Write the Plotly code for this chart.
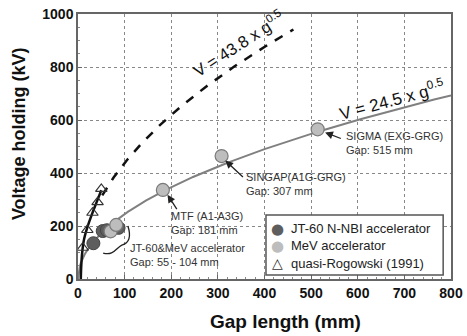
import numpy as np
import plotly.graph_objects as go

# Data
jt60_gap = [33, 53, 62, 87]
jt60_v = [135, 181, 184, 193]
mev_gap = [70, 82, 182, 308, 514]
mev_v = [180, 204, 336, 464, 565]
rog_gap = [10, 20, 31, 42, 50]
rog_v = [118, 185, 250, 290, 340]
rogfit_gap = [6, 7, 9, 13, 20, 30, 40, 50]
rogfit_v = [0, 50, 100, 150, 195, 245, 290, 335]
coef_low = 24.5
coef_high = 43.8
legend_names = ["JT-60 N-NBI accelerator", "MeV accelerator", "quasi-Rogowski (1991)"]

g_low = np.linspace(0, 800, 400)
g_high = np.linspace(52, 462, 200)

FONT = "Liberation Sans, Arial, sans-serif"
fig = go.Figure()

fig.add_trace(go.Scatter(x=g_low, y=coef_low * np.sqrt(g_low), mode="lines",
                         line=dict(color="#808080", width=2), showlegend=False, hoverinfo="skip"))
fig.add_trace(go.Scatter(x=g_high, y=coef_high * np.sqrt(g_high), mode="lines",
                         line=dict(color="#111111", width=2.5, dash="dash"), showlegend=False, hoverinfo="skip"))
fig.add_trace(go.Scatter(x=rogfit_gap, y=rogfit_v, mode="lines", line_shape="spline",
                         line=dict(color="#111111", width=2.5), showlegend=False, hoverinfo="skip"))

fig.add_trace(go.Scatter(x=jt60_gap, y=jt60_v, mode="markers", name=legend_names[0], showlegend=False,
                         marker=dict(symbol="circle", size=13, color="#5e5e5e",
                                     line=dict(color="#444444", width=1))))
fig.add_trace(go.Scatter(x=mev_gap, y=mev_v, mode="markers", name=legend_names[1], showlegend=False,
                         marker=dict(symbol="circle", size=13, color="#bdbdbd",
                                     line=dict(color="#7a7a7a", width=1.2))))
fig.add_trace(go.Scatter(x=rog_gap, y=rog_v, mode="markers", name=legend_names[2], showlegend=False,
                         marker=dict(symbol="triangle-up-open", size=10, color="#333333",
                                     line=dict(width=1.2))))

ann_font = dict(family=FONT, size=11, color="#333333")
annotations = [
    dict(x=345, y=890, text="V = 43.8 x g<sup>0.5</sup>", textangle=-33, showarrow=False,
         font=dict(family=FONT, size=16.5, color="#111111")),
    dict(x=674, y=678, text="V = 24.5 x g<sup>0.5</sup>", textangle=-15, showarrow=False,
         font=dict(family=FONT, size=17, color="#111111")),
    dict(x=570, y=513, text="SIGMA (EXG-GRG)<br>Gap: 515 mm", showarrow=False, xanchor="left",
         align="left", font=ann_font),
    dict(x=355, y=360, text="SINGAP(A1G-GRG)<br>Gap: 307 mm", showarrow=False, xanchor="left",
         align="left", font=ann_font),
    dict(x=195, y=210, text="MTF (A1-A3G)<br>Gap: 181 mm", showarrow=False, xanchor="left",
         align="left", font=ann_font),
    dict(x=108, y=92, text="JT-60&MeV accelerator<br>Gap: 55 - 104 mm", showarrow=False, xanchor="left",
         align="left", font=ann_font),
    # axis titles
    dict(xref="paper", yref="paper", x=0.557, y=-0.162, xanchor="center", yanchor="middle",
         text="<b>Gap length (mm)</b>", showarrow=False,
         font=dict(family=FONT, size=19, color="#111111")),
    dict(xref="paper", yref="paper", x=-0.158, y=0.547, xanchor="center", yanchor="middle",
         text="<b>Voltage holding (kV)</b>", showarrow=False,
         textangle=-90, font=dict(family=FONT, size=18, color="#111111")),
]
# arrows
for (tx, ty, hx, hy) in [(567, 528, 530, 553), (357, 380, 316, 447), (214, 258, 192, 318)]:
    annotations.append(dict(x=hx, y=hy, ax=tx, ay=ty, xref="x", yref="y", axref="x", ayref="y",
                            text="", showarrow=True, arrowhead=2, arrowsize=1.2, arrowwidth=1.3,
                            arrowcolor="#222222"))

# manual legend (compact, like the reference)
leg_y = [0.189, 0.125, 0.060]
leg_sym = [("●", "#5e5e5e", 15), ("●", "#bdbdbd", 15), ("△", "#333333", 14)]
for name, yy, (sym, col, sz) in zip(legend_names, leg_y, leg_sym):
    annotations.append(dict(xref="paper", yref="paper", x=0.534, y=yy, xanchor="center", yanchor="middle",
                            text=sym, showarrow=False,
                            font=dict(family="DejaVu Sans", size=sz, color=col)))
    annotations.append(dict(xref="paper", yref="paper", x=0.566, y=yy, xanchor="left", yanchor="middle",
                            text=name, showarrow=False,
                            font=dict(family=FONT, size=13, color="#222222")))

fig.update_layout(
    width=467, height=336,
    margin=dict(l=78, r=16, t=14, b=57),
    paper_bgcolor="white", plot_bgcolor="white",
    font=dict(family=FONT, color="#111111"),
    annotations=annotations,
    showlegend=False,
    shapes=[
        dict(type="path", xref="x", yref="y",
             path="M 107 200 Q 118 140 94 128 C 82 118 76 86 54 98",
             line=dict(color="#222222", width=1.3)),
        dict(type="rect", xref="paper", yref="paper", x0=0.504, x1=0.979, y0=0.015, y1=0.2415,
             fillcolor="white", line=dict(color="#555555", width=1.5), layer="above"),
    ],
    xaxis=dict(range=[0, 800], dtick=100, showgrid=True, gridcolor="#888888", griddash="dot", gridwidth=1,
               zeroline=False, showline=True, linecolor="#666666", linewidth=1.5, mirror=True,
               ticks="inside", ticklen=4, tickcolor="#666666", automargin=False,
               minor=dict(dtick=20, ticks="inside", ticklen=2, tickcolor="#888888", showgrid=False),
               tickfont=dict(family=FONT, size=14, color="#111111", weight="bold")),
    yaxis=dict(range=[0, 1000], dtick=200, showgrid=True, gridcolor="#888888", griddash="dot", gridwidth=1,
               zeroline=False, showline=True, linecolor="#666666", linewidth=1.5, mirror=True,
               ticks="inside", ticklen=4, tickcolor="#666666", automargin=False,
               minor=dict(dtick=50, ticks="inside", ticklen=2, tickcolor="#888888", showgrid=False),
               tickfont=dict(family=FONT, size=14, color="#111111", weight="bold")),
)

fig.write_html("out.html", config={"displayModeBar": False},
               post_script="document.body.style.margin='0';document.body.style.overflow='hidden';")
